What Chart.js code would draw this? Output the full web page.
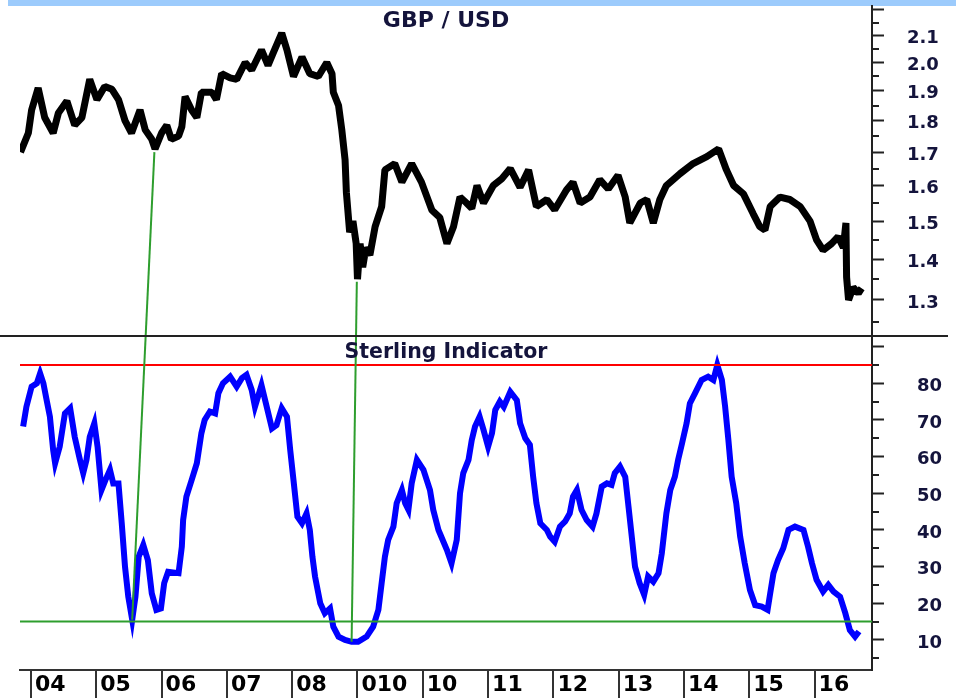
<!DOCTYPE html>
<html><head><meta charset="utf-8">
<script src="https://cdn.jsdelivr.net/npm/chart.js@4.4.1/dist/chart.umd.min.js"></script>
<style>html,body{margin:0;padding:0;background:#fff;overflow:hidden}canvas{display:block}</style>
</head><body>
<canvas id="c" width="956" height="698"></canvas>
<script>
// ---------- data (decimal years) ----------
const priceDates = [2003.84,2003.96,2004.01,2004.11,2004.21,2004.34,2004.42,2004.55,2004.67,2004.78,
2004.90,2005.01,2005.13,2005.24,2005.34,2005.44,2005.54,2005.67,2005.75,2005.85,
2005.90,2006.00,2006.08,2006.15,2006.26,2006.31,2006.36,2006.46,2006.54,2006.61,
2006.77,2006.84,2006.92,2007.05,2007.15,2007.28,2007.38,2007.53,2007.63,2007.71,
2007.84,2007.92,2008.02,2008.15,2008.27,2008.40,2008.53,2008.61,2008.63,2008.71,
2008.76,2008.81,2008.83,2008.88,2008.93,2008.98,2009.00,2009.04,2009.08,2009.13,
2009.19,2009.27,2009.37,2009.42,2009.57,2009.68,2009.83,2009.98,2010.14,2010.26,
2010.37,2010.47,2010.57,2010.67,2010.75,2010.83,2010.93,2011.08,2011.21,2011.34,2011.49,
2011.62,2011.74,2011.90,2012.02,2012.20,2012.30,2012.41,2012.56,2012.71,2012.84,
2012.99,2013.10,2013.17,2013.33,2013.43,2013.53,2013.63,2013.73,2013.94,2014.14,
2014.35,2014.53,2014.65,2014.76,2014.91,2015.06,2015.16,2015.24,2015.32,2015.47,
2015.62,2015.78,2015.93,2016.03,2016.13,2016.26,2016.36,2016.44,2016.48,2016.49,
2016.52,2016.59,2016.67,2016.72];
const priceValues = [1.70,1.76,1.835,1.91,1.81,1.76,1.825,1.865,1.785,1.81,
1.94,1.87,1.915,1.905,1.87,1.80,1.76,1.835,1.77,1.74,
1.71,1.76,1.785,1.74,1.75,1.78,1.88,1.835,1.81,1.895,
1.895,1.87,1.96,1.945,1.94,2.00,1.973,2.046,1.99,2.035,
2.11,2.046,1.95,2.02,1.96,1.95,2.00,1.96,1.895,1.85,
1.77,1.676,1.58,1.47,1.50,1.44,1.35,1.44,1.38,1.43,
1.41,1.485,1.54,1.646,1.665,1.61,1.665,1.61,1.53,1.51,
1.44,1.485,1.567,1.55,1.535,1.60,1.55,1.60,1.62,1.65,1.595,
1.646,1.54,1.56,1.531,1.587,1.61,1.55,1.567,1.617,1.59,
1.63,1.567,1.495,1.55,1.56,1.495,1.56,1.60,1.635,1.665,
1.686,1.71,1.646,1.60,1.576,1.52,1.485,1.476,1.54,1.567,
1.56,1.54,1.50,1.45,1.423,1.44,1.458,1.43,1.495,1.355,
1.30,1.33,1.316,1.328];

const indicatorDates = [2003.88,2003.93,2004.01,2004.09,2004.14,2004.19,2004.24,2004.29,2004.34,2004.37,
2004.44,2004.52,2004.60,2004.67,2004.75,2004.80,2004.85,2004.90,2004.97,2005.02,
2005.08,2005.14,2005.21,2005.26,2005.34,2005.39,2005.44,2005.49,2005.55,2005.60,
2005.65,2005.72,2005.79,2005.85,2005.92,2005.99,2006.04,2006.10,2006.26,2006.31,
2006.33,2006.38,2006.46,2006.54,2006.61,2006.66,2006.74,2006.82,2006.87,2006.94,
2007.05,2007.15,2007.23,2007.30,2007.38,2007.43,2007.53,2007.61,2007.69,2007.76,
2007.84,2007.92,2007.97,2008.02,2008.08,2008.15,2008.22,2008.27,2008.31,2008.35,
2008.43,2008.50,2008.58,2008.63,2008.71,2008.81,2008.91,2009.01,2009.14,2009.24,
2009.32,2009.37,2009.42,2009.47,2009.55,2009.60,2009.68,2009.73,2009.78,2009.83,
2009.91,2010.01,2010.11,2010.16,2010.24,2010.37,2010.44,2010.52,2010.57,2010.62,
2010.70,2010.75,2010.80,2010.87,2010.93,2011.00,2011.06,2011.11,2011.18,2011.24,
2011.34,2011.44,2011.49,2011.57,2011.64,2011.69,2011.74,2011.80,2011.90,2011.95,
2012.02,2012.10,2012.18,2012.25,2012.30,2012.36,2012.43,2012.51,2012.60,2012.66,
2012.74,2012.82,2012.89,2012.94,2013.02,2013.10,2013.15,2013.20,2013.25,2013.32,
2013.39,2013.45,2013.53,2013.61,2013.66,2013.73,2013.79,2013.86,2013.91,2013.97,
2014.04,2014.09,2014.17,2014.27,2014.37,2014.45,2014.51,2014.58,2014.63,2014.68,
2014.73,2014.80,2014.86,2014.93,2015.01,2015.09,2015.19,2015.28,2015.32,2015.37,
2015.44,2015.52,2015.60,2015.70,2015.83,2015.90,2015.96,2016.03,2016.13,2016.21,
2016.29,2016.39,2016.47,2016.54,2016.62,2016.68];
const indicatorValues = [68.2,73.6,79.1,80,82.7,80,75.4,70.9,61.8,58.2,
62.7,71.8,73.2,65.4,59.1,55.5,59.1,65.4,69.1,62.7,
50.9,53.6,56.4,52.7,52.7,41.8,30,21.8,15.5,21.8,
32.7,35.9,31.8,22.7,18.2,18.6,25.5,28.6,28.2,35.4,
42.7,49.1,53.6,58.2,66.4,70,72.3,71.8,77.3,80,
81.8,79.1,81.4,82.3,78.2,73.6,79.5,73.6,67.7,68.6,
73.2,70.9,61.8,53.6,43.6,41.8,44.5,40,32.7,27.3,
20,17.3,18.6,13.6,10.9,10,9.5,9.5,10.9,13.6,
18.2,25.5,32.7,37.3,40.9,47.3,50.9,47.3,45.5,52.7,
59.1,56.4,50.9,45.5,40,34.5,30.9,37.3,50,55.5,
59.1,64.5,68.2,70.9,67.3,62.7,66.4,72.7,75,73.6,
77.7,75.4,69.1,65,63.2,54.5,47.3,41.8,40,38.2,
36.8,40.9,42.3,44.5,49.1,50.9,45.5,42.7,40.9,44.5,
51.8,52.7,52.3,55.5,57.3,54.5,46.4,38.2,30,25.5,
22.3,27.3,25.9,28.2,33.6,44.5,50.9,54.5,59.1,63.6,
69.1,74.5,77.3,80.9,81.8,80.9,85,80.9,73.6,64.5,
54.5,47.3,38.2,30.9,23.6,19.5,19.1,18.2,22.7,28.2,
31.8,35,40,40.9,40,35.4,30.9,26.4,23.2,25,
23.2,21.8,17.3,12.7,10.9,12.3];

const yearTicks = [2004,2005,2006,2007,2008,2009,2010,2011,2012,2013,2014,2015,2016];
const yearLabels = ['04','05','06','07','08','010','10','11','12','13','14','15','16'];
const priceTicks = [1.25,1.3,1.35,1.4,1.45,1.5,1.55,1.6,1.65,1.7,1.75,1.8,1.85,1.9,1.95,2.0,2.05,2.1,2.15,2.2];
const priceTickLabels = ['1.3','1.4','1.5','1.6','1.7','1.8','1.9','2.0','2.1'];
const indicatorTicks = [5,10,15,20,25,30,35,40,45,50,55,60,65,70,75,80,85,90];
const indicatorTickLabels = ['10','20','30','40','50','60','70','80'];
const upperLevel = 85;
const lowerLevel = 15;
const signalLowDates = [2005.55, 2008.91];
const signalLowValues = [15.5, 9.5];
const signalPriceDates = [2005.89, 2008.99];
const signalPriceValues = [1.70, 1.344];
const panelTitles = ['GBP / USD', 'Sterling Indicator'];

// ---------- chart ----------
const X_MIN = 2003.832, X_MAX = 2016.879;
const FONT = '"DejaVu Sans", Verdana, sans-serif';
const TXT = '#14143c';

const pts = (xs, ys) => xs.map((x, i) => ({x, y: ys[i]}));
const isMajorPrice = v => Math.abs(v * 10 - Math.round(v * 10)) < 1e-6;
const isMajorInd = v => v % 10 === 0;
const noPad = s => { s.paddingTop = 0; s.paddingBottom = 0; s.paddingLeft = 0; s.paddingRight = 0; };

const decor = {
  id: 'decor',
  beforeDraw(chart) {
    const ctx = chart.ctx;
    ctx.save();
    ctx.fillStyle = '#9ccbfc';
    ctx.fillRect(8, 0, 948, 6);
    ctx.restore();
  },
  afterDatasetsDraw(chart) {
    const {ctx, scales: {x, yP, yI}} = chart;
    ctx.save();
    ctx.strokeStyle = '#2e9e2e';
    ctx.lineWidth = 2;
    for (let i = 0; i < signalLowDates.length; i++) {
      ctx.beginPath();
      ctx.moveTo(x.getPixelForValue(signalLowDates[i]), yI.getPixelForValue(signalLowValues[i]));
      ctx.lineTo(x.getPixelForValue(signalPriceDates[i]), yP.getPixelForValue(signalPriceValues[i]));
      ctx.stroke();
    }
    ctx.restore();
  },
  afterDraw(chart) {
    const {ctx, chartArea, scales: {yP, yI}} = chart;
    ctx.save();
    ctx.strokeStyle = '#222';
    ctx.lineWidth = 2;
    [[yP, isMajorPrice], [yI, isMajorInd]].forEach(([s, maj]) => {
      s.ticks.forEach(t => {
        if (maj(t.value)) return;
        const y = Math.round(s.getPixelForValue(t.value));
        ctx.beginPath();
        ctx.moveTo(s.left, y);
        ctx.lineTo(s.left + 7, y);
        ctx.stroke();
      });
    });
    ctx.beginPath();
    ctx.moveTo(0, Math.round(yI.top));
    ctx.lineTo(948, Math.round(yI.top));
    ctx.stroke();
    const cx = (chartArea.left + chartArea.right) / 2;
    ctx.fillStyle = TXT;
    ctx.textAlign = 'center';
    ctx.textBaseline = 'alphabetic';
    ctx.font = 'bold 22px ' + FONT;
    ctx.fillText(panelTitles[0], cx, yP.top + 21);
    ctx.font = 'bold 20.5px ' + FONT;
    ctx.fillText(panelTitles[1], cx, yI.top + 22);
    ctx.restore();
  }
};

new Chart(document.getElementById('c'), {
  type: 'line',
  data: {
    datasets: [
      { data: [{x: X_MIN, y: upperLevel}, {x: X_MAX, y: upperLevel}], yAxisID: 'yI',
        borderColor: '#ff0000', borderWidth: 2, pointRadius: 0 },
      { data: [{x: X_MIN, y: lowerLevel}, {x: X_MAX, y: lowerLevel}], yAxisID: 'yI',
        borderColor: '#2e9e2e', borderWidth: 2, pointRadius: 0 },
      { label: 'Sterling Indicator', data: pts(indicatorDates, indicatorValues), yAxisID: 'yI',
        borderColor: '#0000ff', borderWidth: 6, pointRadius: 0, tension: 0 },
      { label: 'GBP / USD', data: pts(priceDates, priceValues), yAxisID: 'yP',
        borderColor: '#000000', borderWidth: 7, pointRadius: 0, tension: 0, borderJoinStyle: 'bevel' }
    ]
  },
  options: {
    responsive: false,
    animation: false,
    devicePixelRatio: 1,
    layout: { padding: { left: 20, top: 6, right: 0, bottom: 0 } },
    plugins: { legend: { display: false }, tooltip: { enabled: false } },
    scales: {
      x: {
        type: 'linear', position: 'bottom', min: X_MIN, max: X_MAX,
        afterBuildTicks: s => { s.ticks = yearTicks.map(v => ({value: v})); },
        afterFit: s => { s.height = 28; noPad(s); },
        grid: { drawOnChartArea: false, drawTicks: true, tickLength: 28, color: '#333', lineWidth: 2 },
        border: { display: true, color: '#333', width: 2 },
        ticks: {
          autoSkip: false, maxRotation: 0, minRotation: 0, align: 'start', labelOffset: 4, padding: -26,
          color: '#000', font: { family: FONT, size: 22, weight: 'bold' },
          callback: (v, i) => yearLabels[i]
        }
      },
      yP: {
        type: 'logarithmic', position: 'right', stack: 'panels', stackWeight: 330,
        min: 1.2178, max: 2.216,
        afterBuildTicks: s => { s.ticks = priceTicks.map(v => ({value: v})); },
        afterFit: s => { s.width = 84; noPad(s); },
        grid: { drawOnChartArea: false, drawTicks: true, tickLength: 12, tickWidth: 2,
                tickColor: c => isMajorPrice(c.tick.value) ? '#222' : 'rgba(0,0,0,0)' },
        border: { display: true, color: '#222', width: 2 },
        ticks: {
          autoSkip: false, padding: 23, labelOffset: 3, crossAlign: 'near',
          color: TXT, font: { family: FONT, size: 18, weight: 'bold' },
          callback: v => { const s = v.toFixed(1); return (isMajorPrice(v) && priceTickLabels.includes(s)) ? s : ''; }
        }
      },
      yI: {
        type: 'linear', position: 'right', stack: 'panels', stackWeight: 334,
        min: 1.8, max: 92.9,
        afterBuildTicks: s => { s.ticks = indicatorTicks.map(v => ({value: v})); },
        afterFit: s => { s.width = 84; noPad(s); },
        grid: { drawOnChartArea: false, drawTicks: true, tickLength: 12, tickWidth: 2,
                tickColor: c => isMajorInd(c.tick.value) ? '#222' : 'rgba(0,0,0,0)' },
        border: { display: true, color: '#222', width: 2 },
        ticks: {
          autoSkip: false, padding: 33, labelOffset: 3, crossAlign: 'near',
          color: TXT, font: { family: FONT, size: 18, weight: 'bold' },
          callback: v => indicatorTickLabels.includes(String(v)) ? String(v) : ''
        }
      }
    }
  },
  plugins: [decor]
});
</script>
</body></html>
